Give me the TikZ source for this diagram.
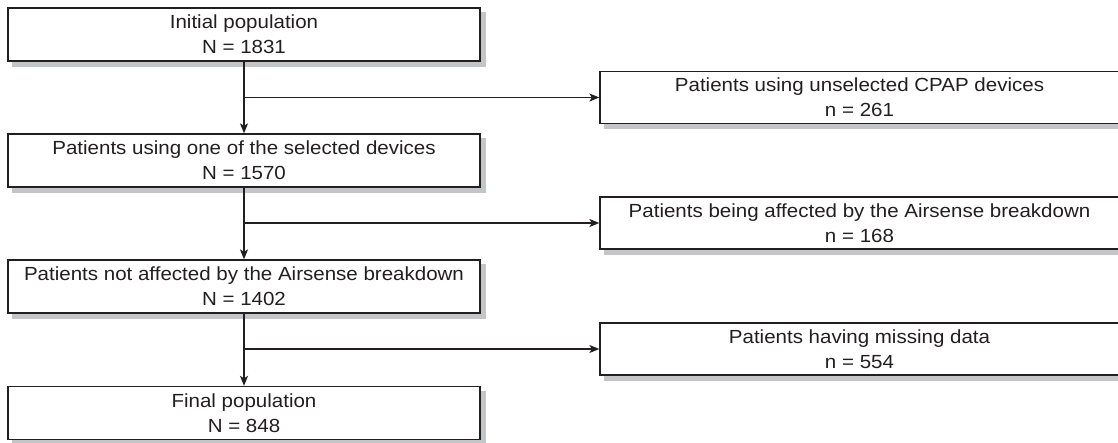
\documentclass[tikz,border=0pt]{standalone}
\usepackage{fontspec}
\setmainfont{Liberation Sans}[FakeStretch=1.08]
\usetikzlibrary{arrows.meta,backgrounds}
\definecolor{ink}{HTML}{231F20}
\definecolor{shade}{HTML}{C4C5C7}
\begin{document}
\begin{tikzpicture}[x=1pt,y=-1pt,
  base/.style={draw=ink, line width=1.3pt, fill=white, text=ink, inner sep=0pt,
    align=center, font=\fontsize{19}{25}\selectfont},
  leftbox/.style={base, minimum width=472pt, minimum height=53pt},
  rightbox/.style={base, minimum width=519pt, minimum height=52pt},
  arr/.style={draw=ink, line width=1.3pt, -{Stealth[length=10pt,width=8pt,inset=2.5pt]}},
  shadowfill/.style={fill=shade}]
\useasboundingbox (0,0) rectangle (1118,443);
\node[leftbox] (b1) at (244,34.5) {Initial population\\N = 1831};
\node[leftbox] (b2) at (244,160.5) {Patients using one of the selected devices\\N = 1570};
\node[leftbox] (b3) at (244,286.5) {Patients not affected by the Airsense breakdown\\N = 1402};
\node[leftbox] (b4) at (244,413) {Final population\\N = 848};
\node[rightbox] (r1) at (859.5,97.5) {Patients using unselected CPAP devices\\n = 261};
\node[rightbox] (r2) at (859.5,223) {Patients being affected by the Airsense breakdown\\n = 168};
\node[rightbox] (r3) at (859.5,349) {Patients having missing data\\n = 554};
\begin{scope}[on background layer]
  \foreach \n in {b1,b2,b3,b4,r1,r2,r3}
    \fill[shadowfill] ([shift={(5pt,-5pt)}]\n.south west) rectangle ([shift={(5pt,-5pt)}]\n.north east);
\end{scope}
\coordinate (j1) at (244,97.5);
\coordinate (j2) at (244,223);
\coordinate (j3) at (244,349);
\draw[arr] (b1) -- (b2);
\draw[arr] (b2) -- (b3);
\draw[arr] (b3) -- (b4);
\draw[arr] (j1) -- (r1.west);
\draw[arr] (j2) -- (r2.west);
\draw[arr] (j3) -- (r3.west);
\end{tikzpicture}
\end{document}
